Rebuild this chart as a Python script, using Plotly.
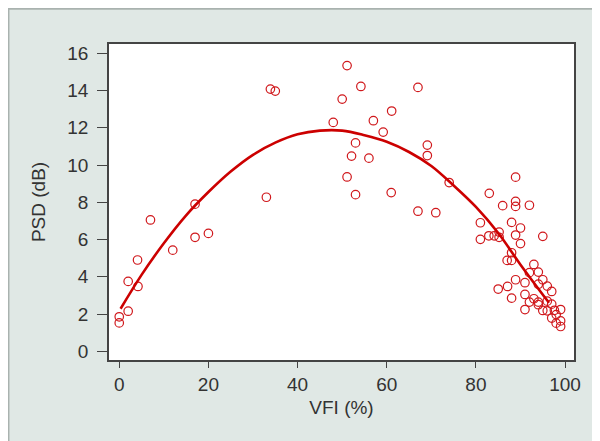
import plotly.graph_objects as go

# scatter points
vfi = [0, 0, 2, 2, 4.1, 4.2, 7, 12, 17, 17, 20, 33, 33.9, 35,
       48, 50, 51.1, 51.1, 52.1, 53, 53, 54.2, 56, 57, 59.2, 61, 61.1,
       67, 67, 69.1, 69.1, 71, 74,
       81, 81, 83, 82.9, 84.1, 85.2, 85.2, 85, 86, 87, 87.1,
       88, 88, 88, 88, 88.9, 88.9, 88.9, 88.9, 88.9, 90, 90,
       92, 91, 91, 91, 92, 92, 93, 93, 94, 94, 94, 94,
       95, 95, 95, 96, 96, 96, 97, 97, 97, 97.6, 98, 98, 99, 99, 99]
psd = [1.85, 1.52, 2.15, 3.75, 4.9, 3.48, 7.05, 5.43, 7.9, 6.12, 6.33, 8.27, 14.08, 13.97,
       12.29, 13.54, 15.34, 9.36, 10.48, 11.19, 8.41, 14.22, 10.37, 12.38, 11.77, 8.52, 12.9,
       14.17, 7.52, 11.07, 10.51, 7.44, 9.06,
       6.9, 6.01, 8.48, 6.2, 6.2, 6.4, 6.12, 3.34, 7.82, 4.88, 3.48,
       6.92, 5.29, 4.88, 2.85, 9.35, 8.05, 7.78, 6.24, 3.84, 6.62, 5.78,
       7.84, 3.68, 3.05, 2.24, 4.22, 2.64, 4.66, 2.82, 4.25, 3.6, 2.64, 2.5,
       3.84, 6.17, 2.19, 3.5, 2.69, 2.17, 3.21, 2.53, 1.78, 2.2, 1.97, 1.51, 2.24, 1.63, 1.33]

# fitted curve
fit_x = [0.3, 5, 10, 15, 20, 25, 30, 35, 40, 45, 50, 55, 60, 65, 70, 75, 80, 85, 90, 96.4]
fit_y = [2.28, 4.1, 5.8, 7.3, 8.55, 9.65, 10.55, 11.2, 11.65, 11.85, 11.85, 11.6, 11.25,
         10.7, 9.95, 8.9, 7.75, 6.35, 4.65, 2.6]

x_ticks = [0, 20, 40, 60, 80, 100]
y_ticks = [0, 2, 4, 6, 8, 10, 12, 14, 16]

RED = "#d0181c"
INK = "#333333"
FONT = "Liberation Sans, Arial, sans-serif"

fig = go.Figure()
fig.add_trace(go.Scatter(
    x=vfi, y=psd, mode="markers",
    marker=dict(symbol="circle-open", size=8.5, color=RED, line=dict(width=1.2, color=RED)),
    hoverinfo="x+y",
))
fig.add_trace(go.Scatter(
    x=fit_x, y=fit_y, mode="lines",
    line=dict(color="#cc0000", width=2.6, shape="spline", smoothing=1.0),
))

axis_common = dict(
    showline=True, linecolor="#444444", linewidth=1.5, mirror=True,
    ticks="outside", tickwidth=1.3, tickcolor="#444444",
    showgrid=False, zeroline=False,
    tickfont=dict(family=FONT, size=19, color=INK),
)

fig.update_xaxes(
    range=[-2.3, 102], tickvals=x_ticks, ticklen=6, ticklabelstandoff=0,
    title=dict(text="VFI (%)", standoff=7, font=dict(family=FONT, size=19, color=INK)),
    **axis_common,
)
fig.update_yaxes(
    range=[-0.47, 16.5], tickvals=y_ticks, ticklen=10, ticklabelstandoff=5,
    title=dict(text="PSD (dB)", standoff=17, font=dict(family=FONT, size=19, color=INK)),
    **axis_common,
)

ml, mr, mt, mb = 101, 34, 36, 89
pw, ph = 600 - ml - mr, 441 - mt - mb

# thin frame round the whole picture
fig.add_shape(
    type="rect", xref="paper", yref="paper",
    x0=-ml / pw + 0.001, x1=1 + mr / pw - 0.001,
    y0=-mb / ph + 0.002, y1=1 + mt / ph - 0.002,
    line=dict(color="#a9b2af", width=2), fillcolor="rgba(0,0,0,0)", layer="below",
)

fig.update_layout(
    width=600, height=441,
    margin=dict(l=ml, r=mr, t=mt, b=mb, autoexpand=False),
    paper_bgcolor="#e0e8e5",
    plot_bgcolor="#ffffff",
    showlegend=False,
)

fig.write_html("out.html")
